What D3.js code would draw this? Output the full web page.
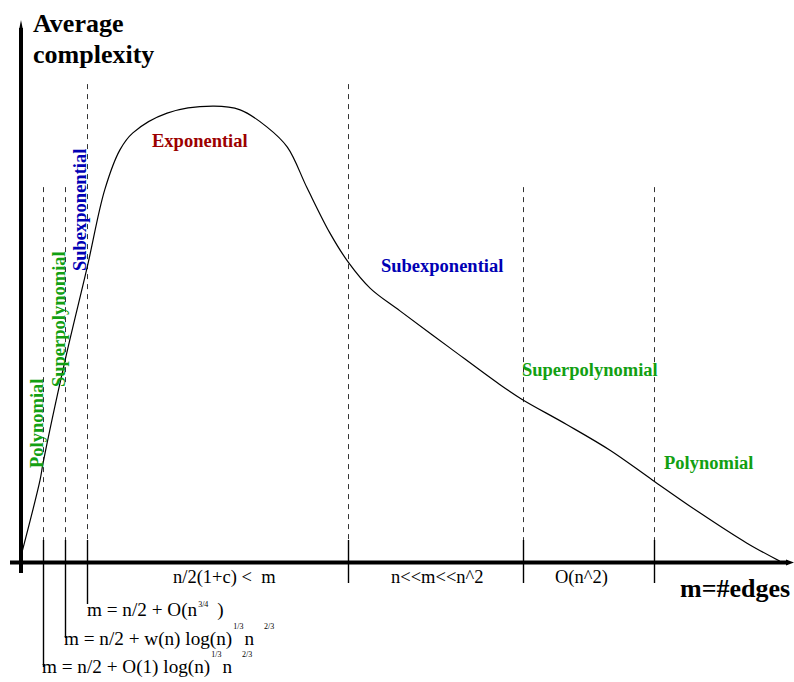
<!DOCTYPE html>
<html>
<head>
<meta charset="utf-8">
<script src="https://cdn.jsdelivr.net/npm/d3@7"></script>
<style>
  html, body { margin: 0; padding: 0; background: #fff; }
  svg { display: block; }
  text { font-family: "Liberation Serif", "Times New Roman", serif; }
</style>
</head>
<body>
<svg id="chart" width="794" height="682"></svg>
<script>
// ---------------- DATA ----------------
// curve: m (edges, arbitrary 0..100) vs average complexity (arbitrary 0..100)
const curveM =    [0, 2.5, 2.9, 5.8, 8.7, 11.0, 13.0, 14.7, 19.2, 25.2, 28.8, 32.3, 35.0, 37.6, 40.6, 43.0, 45.9, 49.8, 56.4, 62.9, 65.8, 71.7, 77.4, 83.0, 89.2, 95.4, 99.7];
const curveCost = [1.4, 17.9, 21.6, 44.0, 64.2, 81.0, 89.7, 93.4, 97.7, 99.2, 98.4, 94.7, 90.3, 81.4, 71.6, 65.3, 59.6, 54.7, 46.6, 38.7, 35.5, 30.0, 24.4, 17.9, 10.8, 4.2, 0.3];

// regime boundaries along m
const boundaryM =   [2.9, 5.8, 8.7, 43.0, 66.0, 83.2];
const boundaryTop = [81.6, 81.6, 104, 104, 81.6, 81.6];

// regime labels
const regionLabels = ["Exponential", "Subexponential", "Superpolynomial", "Polynomial"];
const regionColors = ["#9c0000", "#0000b4", "#12a012", "#12a012"];
const verticalLabels = ["Polynomial", "Superpolynomial", "Subexponential"];
const verticalColors = ["#12a012", "#12a012", "#0000b4"];

// labels under the axis
const rangeLabels = ["n/2(1+c) <  m", "n<<m<<n^2", "O(n^2)"];

const axisTitleY = ["Average", "complexity"];
const axisTitleX = "m=#edges";

// ---------------- CHART ----------------
const svg = d3.select("#chart");
const x = d3.scaleLinear().domain([0, 100]).range([21, 782]);
const y = d3.scaleLinear().domain([0, 100]).range([562.5, 102.5]);
const axisY = y(0);
const dashBottom = 540;

// dashed boundaries
svg.append("g").selectAll("line").data(boundaryM).join("line")
  .attr("x1", d => Math.round(x(d)) + 0.5).attr("x2", d => Math.round(x(d)) + 0.5)
  .attr("y1", (d, i) => y(boundaryTop[i])).attr("y2", dashBottom)
  .attr("stroke", "#333").attr("stroke-width", 1).attr("stroke-dasharray", "5,5");

// solid extensions below
const solidEnds = [667, 638, 604, 583, 583, 583];
svg.append("g").selectAll("line").data(boundaryM).join("line")
  .attr("x1", d => Math.round(x(d)) + 0.5).attr("x2", d => Math.round(x(d)) + 0.5)
  .attr("y1", dashBottom).attr("y2", (d, i) => solidEnds[i])
  .attr("stroke", "#000").attr("stroke-width", 1.4);

// axes
svg.append("line").attr("x1", 10).attr("x2", 788).attr("y1", axisY).attr("y2", axisY)
  .attr("stroke", "#000").attr("stroke-width", 4);
svg.append("path").attr("d", `M786,${axisY-3} L794,${axisY} L786,${axisY+3} Z`).attr("fill", "#000");
svg.append("line").attr("x1", 21).attr("x2", 21).attr("y1", 573).attr("y2", 28)
  .attr("stroke", "#000").attr("stroke-width", 4);
svg.append("path").attr("d", "M19,30 L21,20 L23,30 Z").attr("fill", "#000");

// curve
const pts = curveM.map((m, i) => [m, curveCost[i]]);
svg.append("path").datum(pts)
  .attr("d", d3.line().x(d => x(d[0])).y(d => y(d[1])).curve(d3.curveCatmullRom.alpha(0.5)))
  .attr("fill", "none").attr("stroke", "#000").attr("stroke-width", 1.2);

// axis titles
svg.append("text").attr("x", 33).attr("y", 32).attr("font-size", 26).attr("font-weight", "bold").text(axisTitleY[0]);
svg.append("text").attr("x", 33).attr("y", 63).attr("font-size", 26).attr("font-weight", "bold").text(axisTitleY[1]);
svg.append("text").attr("x", 680).attr("y", 597).attr("font-size", 26).attr("font-weight", "bold").text(axisTitleX);

// region labels (horizontal)
const regionPos = [[152, 147], [381, 272], [522, 376], [664, 469]];
svg.append("g").selectAll("text").data(regionLabels).join("text")
  .attr("x", (d, i) => regionPos[i][0]).attr("y", (d, i) => regionPos[i][1])
  .attr("font-size", 18.5).attr("font-weight", "bold")
  .attr("fill", (d, i) => regionColors[i]).text(d => d);

// vertical labels
const vertPos = [[43, 468], [64.5, 387], [86, 271]];
svg.append("g").selectAll("text").data(verticalLabels).join("text")
  .attr("transform", (d, i) => `translate(${vertPos[i][0]},${vertPos[i][1]}) rotate(-90)`)
  .attr("font-size", 18.5).attr("font-weight", "bold")
  .attr("fill", (d, i) => verticalColors[i]).text(d => d);

// range labels under axis
const rangeX = [173, 391, 555];
svg.append("g").selectAll("text").data(rangeLabels).join("text")
  .attr("x", (d, i) => rangeX[i]).attr("y", 583).attr("font-size", 18.5)
  .style("white-space", "pre").text(d => d);

// formula rows: parts are [text, isSup, dx]
function formula(xs, ys, raise, parts) {
  const t = svg.append("text").attr("x", xs).attr("y", ys).attr("font-size", 19.2)
    .style("white-space", "pre");
  let up = false;
  parts.forEach(([s, sup, dx]) => {
    const ts = t.append("tspan").attr("dx", dx || 0).text(s);
    if (sup && !up) { ts.attr("dy", -raise).attr("font-size", 8); up = true; }
    else if (sup) { ts.attr("font-size", 8); }
    else if (up) { ts.attr("dy", raise); up = false; }
  });
}
formula(87, 616, 9, [["m = n/2 + O(n"], ["3/4", true, 1], [")", false, 9]]);
formula(64, 645, 16, [["m = n/2 + w(n) log(n)"], ["1/3", true, 1], ["n", false, 1], ["2/3", true, 10]]);
formula(42, 673, 16, [["m = n/2 + O(1) log(n)"], ["1/3", true, 1], ["n", false, 1], ["2/3", true, 10]]);
</script>
</body>
</html>
